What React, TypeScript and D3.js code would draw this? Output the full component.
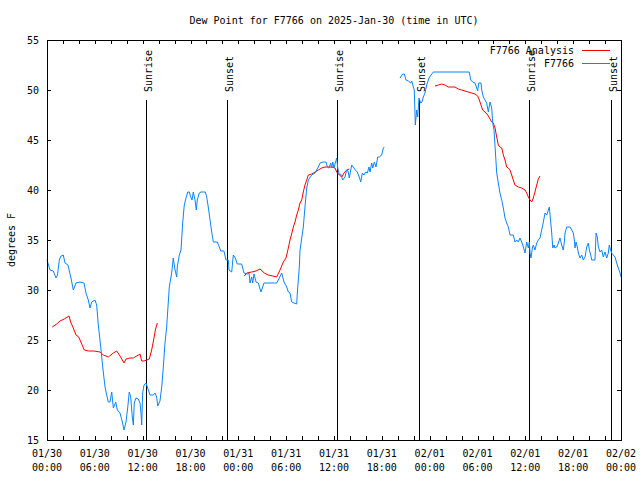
import React from "react";
import * as d3 from "d3";

const TITLE = "Dew Point for F7766 on 2025-Jan-30 (time in UTC)";
const Y_LABEL = "degrees F";
const START = Date.UTC(2025, 0, 30, 0, 0);
const END = Date.UTC(2025, 1, 2, 0, 0);
const Y_DOMAIN = [15, 55];
const Y_TICKS = [15, 20, 25, 30, 35, 40, 45, 50, 55];

// hours since 2025-01-30 00:00 UTC
const obsHours: (number | null)[] = [
  0.0, 0.38, 0.79, 1.13, 1.32, 1.54, 1.76, 2.04, 2.26, 2.63, 3.01, 3.3, 3.64, 4.14, 4.64, 4.89, 5.18, 5.39, 5.61, 6.02,
  6.23, 6.44, 6.74, 6.99, 7.28, 7.49, 7.69, 7.9, 8.12, 8.32, 8.62, 8.82, 9.16, 9.45, 9.66, 9.91, 10.12, 10.32, 10.5, 10.7,
  10.83, 10.95, 11.16, 11.45, 11.67, 11.79, 11.88, 12.0, 12.17, 12.42, 12.63, 12.92, 13.33, 13.55, 13.76, 13.89, 14.17, 14.39, 14.59, 14.8,
  15.01, 15.34, 15.64, 15.84, 16.06, 16.27, 16.34, 16.6, 16.81, 17.02, 17.22, 17.44, 17.65, 17.85, 18.03, 18.19, 18.35, 18.57, 18.73, 18.85,
  19.1, 19.32, 19.86, 20.03, 20.23, 20.45, 20.66, 20.86, 21.36, 21.61, 21.79, 22.2, 22.45, 22.74, 22.83, 23.17, 23.37, 23.62, 23.87, 24.42,
  24.71, 25.12, 25.34, 25.46, 25.68, 25.8, 25.97, 26.22, 26.5, 26.84, 27.22, 27.97, 28.81, 29.01, 29.44, 29.73, 30.07, 30.27, 30.48, 30.69,
  30.98, 31.32, 31.4, 31.52, 31.65, 31.74, 32.15, 32.36, 32.58, 32.78, 33.2, 33.62, 34.03, 34.25, 34.66, 35.0, 35.16, 35.37, 35.59, 35.71,
  35.84, 36.0, 36.13, 36.34, 36.47, 36.67, 36.84, 37.09, 37.38, 37.59, 37.76, 37.92, 38.1, 38.22, 38.42, 38.67, 38.92, 39.17, 39.35, 39.55,
  39.76, 39.98, 40.18, 40.39, 40.52, 40.73, 40.86, 41.06, 41.27, 41.48, 41.68, 41.98, 42.19, 42.31,
  null,
  44.28, 44.62, 44.82, 45.03, 45.32, 45.62, 45.75, 45.95, 46.07, 46.2, 46.37, 46.5, 46.66, 46.88, 47.04, 47.2, 47.41, 47.63, 47.92, 48.26,
  48.46, 52.97, 53.15, 53.4, 53.69, 53.9, 54.02, 54.15, 54.44, 54.53, 54.73, 54.94, 55.15, 55.36, 55.57, 55.78, 55.91, 56.07, 56.23, 56.41,
  56.61, 56.82, 57.04, 57.24, 57.45, 57.66, 57.87, 58.08, 58.49, 58.7, 58.92, 59.12, 59.33, 59.55, 59.75, 59.96, 60.17, 60.38, 60.5, 60.59,
  60.71, 60.88, 61.0, 61.21, 61.43, 61.63, 61.84, 62.05, 62.26, 62.47, 62.68, 62.89, 63.01, 63.1, 63.31, 63.44, 63.6, 63.72, 63.94, 64.14,
  64.35, 64.56, 64.76, 64.89, 64.98, 65.19, 65.6, 65.82, 66.02, 66.15, 66.23, 66.36, 66.52, 66.65, 66.86, 67.07, 67.27, 67.49, 67.7, 67.9,
  68.03, 68.2, 68.33, 68.74, 68.87, 69.03, 69.16, 69.37, 69.58, 69.78, 69.99, 70.21, 70.41, 70.53, 70.71, 70.83, 71.04, 71.25, 71.46, 71.66,
  71.88, 72.0,
];
const obsValues: (number | null)[] = [
  33.0, 32.0, 31.9, 31.2, 31.5, 33.0, 33.4, 33.5, 32.7, 32.5, 31.2, 30.0, 30.7, 30.8, 30.7, 29.7, 29.0, 28.2, 28.8, 29.0,
  28.5, 26.5, 24.3, 22.3, 20.3, 19.5, 18.8, 18.8, 19.8, 18.2, 18.8, 18.0, 17.7, 16.8, 16.0, 16.8, 18.2, 19.8, 19.3, 17.3,
  16.5, 18.7, 19.2, 19.1, 18.7, 17.7, 16.5, 19.7, 20.5, 20.7, 20.2, 19.5, 19.5, 19.7, 19.3, 18.4, 18.9, 20.3, 22.3, 24.7,
  26.3, 30.3, 31.7, 33.2, 32.0, 31.3, 32.3, 33.5, 34.0, 36.7, 38.5, 39.2, 39.8, 39.8, 39.3, 39.0, 39.8, 39.0, 38.0, 39.0,
  39.7, 39.8, 39.8, 39.3, 38.3, 37.0, 35.8, 34.8, 34.8, 34.3, 33.9, 33.9, 33.0, 33.0, 32.0, 31.8, 33.5, 33.2, 32.6, 32.6,
  31.7, 31.6, 31.7, 30.7, 31.3, 30.7, 31.6, 30.8, 30.7, 29.8, 30.7, 30.7, 30.7, 31.0, 31.7, 30.8, 30.3, 29.8, 29.7, 28.8,
  28.7, 28.6, 29.7, 31.0, 32.3, 34.0, 36.3, 38.3, 40.2, 41.0, 41.5, 41.7, 42.3, 42.7, 42.8, 42.8, 42.3, 42.2, 42.7, 42.2,
  42.8, 42.2, 42.6, 43.2, 42.2, 41.5, 41.6, 41.0, 41.3, 42.0, 41.9, 41.2, 42.0, 42.5, 42.3, 42.0, 41.8, 41.3, 40.8, 41.7,
  41.5, 41.8, 41.7, 42.3, 41.8, 42.7, 42.2, 42.8, 42.3, 43.3, 43.3, 43.5, 44.2, 44.3,
  null,
  51.2, 51.6, 51.6, 51.0, 50.9, 50.7, 50.9, 50.3, 50.0, 46.5, 48.0, 47.3, 49.2, 48.7, 48.8, 49.3, 49.7, 50.5, 51.2, 51.6,
  51.8, 51.8, 51.0, 50.8, 50.7, 50.2, 49.9, 50.7, 50.7, 50.0, 49.3, 49.0, 48.7, 47.8, 48.8, 48.2, 46.7, 46.0, 44.0, 41.7,
  40.7, 39.7, 39.0, 38.2, 37.2, 36.7, 36.3, 35.5, 35.5, 34.8, 35.0, 34.8, 35.2, 34.8, 34.3, 33.7, 34.8, 34.2, 34.8, 33.7,
  33.2, 34.2, 34.5, 34.0, 34.7, 35.0, 35.2, 36.0, 36.8, 37.7, 37.5, 38.0, 38.3, 37.5, 35.7, 34.2, 34.5, 34.2, 34.3, 34.7,
  35.2, 34.5, 34.0, 34.8, 35.7, 36.3, 36.3, 36.0, 35.7, 35.0, 34.2, 34.8, 34.3, 33.7, 33.2, 33.5, 33.0, 33.3, 34.3, 34.7,
  34.0, 33.5, 33.0, 33.0, 35.7, 35.3, 34.3, 33.8, 34.0, 33.3, 33.8, 33.2, 33.7, 34.5, 34.0, 33.7, 33.5, 33.3, 32.7, 32.2,
  31.7, 31.3,
];

const anaHours: (number | null)[] = [
  0.66, 1.22, 1.63, 2.17, 2.76, 2.97, 3.3, 3.64, 3.98, 4.35, 4.68, 5.18, 5.9, 6.65, 7.06, 7.69, 8.32, 8.74, 9.16, 9.66,
  9.91, 10.41, 10.83, 11.25, 11.67, 11.88, 12.17, 12.51, 12.83, 13.13, 13.42, 13.59, 13.84,
  null,
  24.75, 25.05, 25.68, 26.22, 26.72, 27.26, 27.76, 28.31, 28.81, 29.23, 29.64, 29.98, 30.27, 30.48, 30.69, 30.9, 31.11, 31.32, 31.52, 31.74,
  31.95, 32.15, 32.36, 32.58, 32.78, 33.2, 33.62, 34.03, 34.46, 34.87, 35.71, 36.13, 36.34, 36.67, 36.97, 37.25, 37.59, 37.92,
  null,
  48.67, 49.08, 49.51, 49.92, 50.33, 50.76, 51.18, 51.59, 52.02, 52.43, 52.85, 53.27, 53.69, 54.02, 54.23, 54.44, 54.65, 54.94, 55.28, 55.57,
  55.78, 55.98, 56.2, 56.41, 56.61, 56.82, 57.04, 57.24, 57.45, 57.66, 57.87, 58.08, 58.29, 58.49, 58.7, 59.12, 59.55, 59.96, 60.17, 60.38,
  60.59, 60.8, 61.0, 61.21, 61.43, 61.63, 61.84,
];
const anaValues: (number | null)[] = [
  26.3, 26.6, 26.9, 27.1, 27.4, 26.8, 26.2, 25.5, 25.3, 24.6, 24.0, 23.9, 23.9, 23.8, 23.5, 23.3, 23.7, 23.9, 23.4, 22.7,
  23.1, 23.2, 23.2, 23.4, 23.6, 22.9, 22.9, 23.0, 23.1, 24.0, 25.2, 26.0, 26.7,
  null,
  31.4, 31.7, 31.8, 31.9, 32.1, 31.7, 31.5, 31.4, 31.3, 32.0, 32.8, 33.2, 34.2, 35.0, 35.6, 36.3, 36.8, 37.5, 38.0, 38.7,
  39.0, 39.8, 40.5, 41.0, 41.5, 41.6, 41.8, 42.0, 42.2, 42.3, 42.3, 42.2, 41.8, 41.5, 41.3, 41.7, 42.0, 42.1,
  null,
  50.4, 50.5, 50.6, 50.5, 50.3, 50.3, 50.3, 50.1, 50.0, 49.9, 49.8, 49.7, 49.6, 49.4, 49.0, 48.5, 48.0, 47.8, 47.5, 47.1,
  46.8, 46.7, 46.2, 45.3, 44.5, 44.3, 44.2, 43.5, 43.0, 42.3, 42.2, 42.0, 41.5, 41.0, 40.5, 40.3, 40.2, 40.0, 39.7, 39.3,
  39.0, 38.8, 39.2, 39.8, 40.5, 41.1, 41.4,
];

const sunEventHours = [12.42, 22.62, 36.38, 46.7, 60.45, 70.78];
const sunEventLabels = ["Sunrise", "Sunset", "Sunrise", "Sunset", "Sunrise", "Sunset"];
const sunEventTop = 49;

const seriesNames = ["F7766 Analysis", "F7766"];
const seriesColors = ["#ff0000", "#0a84ff"];

const FONT = "'DejaVu Sans Mono', 'Liberation Mono', monospace";

type Pt = { t: Date | null; v: number | null };
const toPts = (hs: (number | null)[], vs: (number | null)[]): Pt[] =>
  hs.map((h, i) => ({ t: h == null ? null : new Date(START + h * 3600000), v: vs[i] }));

export default function App() {
  const W = 640, H = 480;
  const L = 47, R = 621, T = 40, B = 440;
  const x = d3.scaleUtc().domain([new Date(START), new Date(END)]).range([L, R]);
  const y = d3.scaleLinear().domain(Y_DOMAIN).range([B, T]);

  const line = d3
    .line<Pt>()
    .defined((d) => d.t != null && d.v != null)
    .x((d) => x(d.t as Date))
    .y((d) => y(d.v as number));

  const obs = toPts(obsHours, obsValues);
  const ana = toPts(anaHours, anaValues);

  const majorX = x.ticks(d3.utcHour.every(6) as any);
  const minorX = x.ticks(d3.utcHour.every(2) as any);
  const fmtDate = d3.utcFormat("%m/%d");
  const fmtTime = d3.utcFormat("%H:%M");
  const tk = 4;

  return (
    <svg
      width={W}
      height={H}
      viewBox={`0 0 ${W} ${H}`}
      style={{ position: "absolute", left: 0, top: 0, background: "#fff" }}
      fontFamily={FONT}
      fontSize={10}
    >
      <rect x={0} y={0} width={W} height={H} fill="#fff" />
      <text x={(L + R) / 2} y={20} textAnchor="middle" dominantBaseline="central" fontSize={10}>
        {TITLE}
      </text>
      <text
        transform={`translate(11,${(T + B) / 2}) rotate(-90)`}
        textAnchor="middle"
        dominantBaseline="central"
      >
        {Y_LABEL}
      </text>

      {/* y ticks */}
      {Y_TICKS.map((v) => (
        <g key={`y${v}`}>
          <line x1={L} x2={L + tk} y1={Math.round(y(v)) + 0.5} y2={Math.round(y(v)) + 0.5} stroke="#000" />
          <line x1={R - tk} x2={R} y1={Math.round(y(v)) + 0.5} y2={Math.round(y(v)) + 0.5} stroke="#000" />
          <text x={39} y={y(v)} textAnchor="end" dominantBaseline="central">
            {v}
          </text>
        </g>
      ))}

      {/* x ticks */}
      {minorX.map((d, i) => {
        const px = Math.round(x(d)) + 0.5;
        return (
          <g key={`mx${i}`}>
            <line x1={px} x2={px} y1={B} y2={B - tk} stroke="#000" />
            <line x1={px} x2={px} y1={T} y2={T + tk} stroke="#000" />
          </g>
        );
      })}
      {majorX.map((d, i) => (
        <g key={`x${i}`}>
          <text x={x(d)} y={453} textAnchor="middle" dominantBaseline="central">
            {fmtDate(d)}
          </text>
          <text x={x(d)} y={467} textAnchor="middle" dominantBaseline="central">
            {fmtTime(d)}
          </text>
        </g>
      ))}

      {/* sun events */}
      {sunEventHours.map((h, i) => {
        const d = new Date(START + h * 3600000);
        const px = Math.round(x(d)) + 0.5;
        return (
          <g key={`s${i}`}>
            <line x1={px} x2={px} y1={y(sunEventTop)} y2={B} stroke="#000" />
            <text
              transform={`translate(${px + 1.5},92) rotate(-90)`}
              textAnchor="start"
              dominantBaseline="central"
            >
              {sunEventLabels[i]}
            </text>
          </g>
        );
      })}

      {/* series */}
      <path d={line(ana) || ""} fill="none" stroke={seriesColors[0]} strokeWidth={1} />
      <path d={line(obs) || ""} fill="none" stroke={seriesColors[1]} strokeWidth={1} />

      {/* frame */}
      <rect x={L + 0.5} y={T + 0.5} width={R - L} height={B - T} fill="none" stroke="#000" />

      {/* legend */}
      {seriesNames.map((n, i) => (
        <g key={`lg${i}`}>
          <text x={574} y={50 + i * 13} textAnchor="end" dominantBaseline="central">
            {n}
          </text>
          <line x1={582} x2={610} y1={50.5 + i * 13} y2={50.5 + i * 13} stroke={seriesColors[i]} />
        </g>
      ))}
    </svg>
  );
}
